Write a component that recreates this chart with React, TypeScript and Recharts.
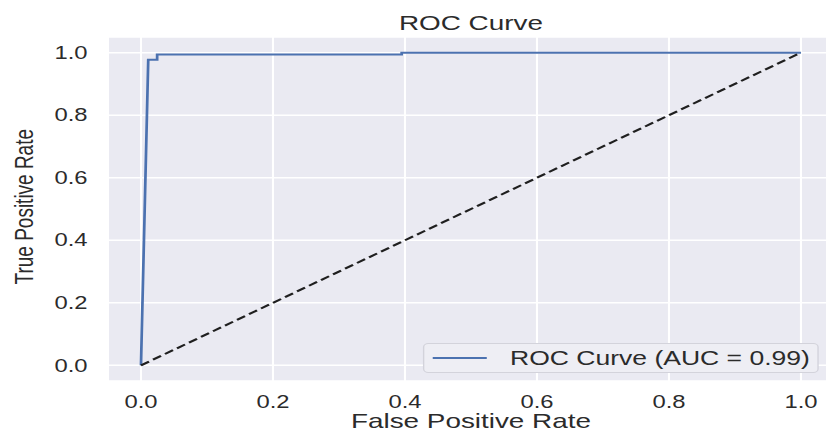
import { LineChart, Line, XAxis, YAxis, CartesianGrid, Legend, Label } from "recharts";

const FONT = "'Liberation Sans', Arial, sans-serif";
const TEXT = "#2b2b2b";
// reference looks horizontally stretched, so draw narrow and scale x
const STRETCH = 1.36;

const rocFpr = [0, 0.011, 0.0245, 0.0245, 0.395, 0.395, 1.0];
const rocTpr = [0, 0.977, 0.977, 0.994, 0.994, 1.0, 1.0];
const chanceFpr = [0, 1];
const chanceTpr = [0, 1];
const axisTicks = [0, 0.2, 0.4, 0.6, 0.8, 1.0];
const rocName = "ROC Curve (AUC = 0.99)";

const rocData = rocFpr.map((fpr, i) => ({ fpr, tpr: rocTpr[i] }));
const chanceData = chanceFpr.map((fpr, i) => ({ fpr, tpr: chanceTpr[i] }));

function LegendBox({ payload }: { payload?: readonly any[] }) {
  const items = (payload || []).filter((p) => p.type !== "none");
  return (
    <div
      style={{
        boxSizing: "border-box",
        width: "100%",
        height: "100%",
        border: "1px solid #d3d3db",
        borderRadius: 4,
        background: "#eeeef4",
        display: "flex",
        alignItems: "center",
      }}
    >
      {items.map((it) => (
        <div key={it.value} style={{ display: "flex", alignItems: "center" }}>
          <svg width={40} height={4} style={{ marginLeft: 6, marginRight: 17 }}>
            <line x1={0} y1={2} x2={40} y2={2} stroke={it.color} strokeWidth={2} />
          </svg>
          <span style={{ fontFamily: FONT, fontSize: 19.5, color: TEXT, whiteSpace: "nowrap" }}>{it.value}</span>
        </div>
      ))}
    </div>
  );
}

export default function App() {
  const tick = { fill: TEXT, fontSize: 17.5, fontFamily: FONT };
  return (
    <div style={{ position: "fixed", left: 0, top: 0, width: 826, height: 433, overflow: "hidden", background: "#fff" }}>
      <div style={{ position: "relative", width: 614, height: 433, transform: `scaleX(${STRETCH})`, transformOrigin: "0 0" }}>
        <div
          style={{
            position: "absolute",
            left: 79.4,
            width: 533.8,
            top: 12.6,
            lineHeight: "20.5px",
            textAlign: "center",
            fontFamily: FONT,
            fontSize: 20.5,
            color: TEXT,
          }}
        >
          ROC Curve
        </div>
        <LineChart width={614} height={433} margin={{ top: 37, right: 0.8, bottom: 0, left: 0 }}>
          <CartesianGrid fill="#eaeaf2" stroke="#ffffff" strokeWidth={1.5} />
          <XAxis
            dataKey="fpr"
            type="number"
            domain={[-0.05, 1.05]}
            allowDataOverflow
            ticks={axisTicks}
            height={52}
            tickSize={0}
            tickMargin={15}
            axisLine={false}
            tickLine={false}
            tick={tick}
            tickFormatter={(v: number) => v.toFixed(1)}
          >
            <Label
              value="False Positive Rate"
              position="insideBottom"
              offset={4.5}
              style={{ fill: TEXT, fontSize: 20.5, fontFamily: FONT }}
            />
          </XAxis>
          <YAxis
            type="number"
            domain={[-0.05, 1.05]}
            allowDataOverflow
            ticks={axisTicks}
            width={79.4}
            tickSize={0}
            tickMargin={15}
            axisLine={false}
            tickLine={false}
            tick={tick}
            tickFormatter={(v: number) => v.toFixed(1)}
          >
            <Label
              content={() => (
                <text
                  transform="translate(24.3, 206.7) rotate(-90)"
                  textAnchor="middle"
                  fill={TEXT}
                  fontSize={19}
                  fontFamily={FONT}
                >
                  True Positive Rate
                </text>
              )}
            />
          </YAxis>
          <Legend
            layout="horizontal"
            align="center"
            verticalAlign="middle"
            content={<LegendBox />}
            wrapperStyle={{ left: 311, top: 343, width: 290.5, height: 30 }}
          />
          <Line
            data={rocData}
            dataKey="tpr"
            name={rocName}
            type="linear"
            stroke="#4c72b0"
            strokeWidth={2}
            dot={false}
            activeDot={false}
            isAnimationActive={false}
          />
          <Line
            data={chanceData}
            dataKey="tpr"
            name="chance"
            type="linear"
            stroke="#1f1f1f"
            strokeWidth={2}
            strokeDasharray="7 3.5"
            dot={false}
            activeDot={false}
            legendType="none"
            isAnimationActive={false}
          />
        </LineChart>
      </div>
    </div>
  );
}
